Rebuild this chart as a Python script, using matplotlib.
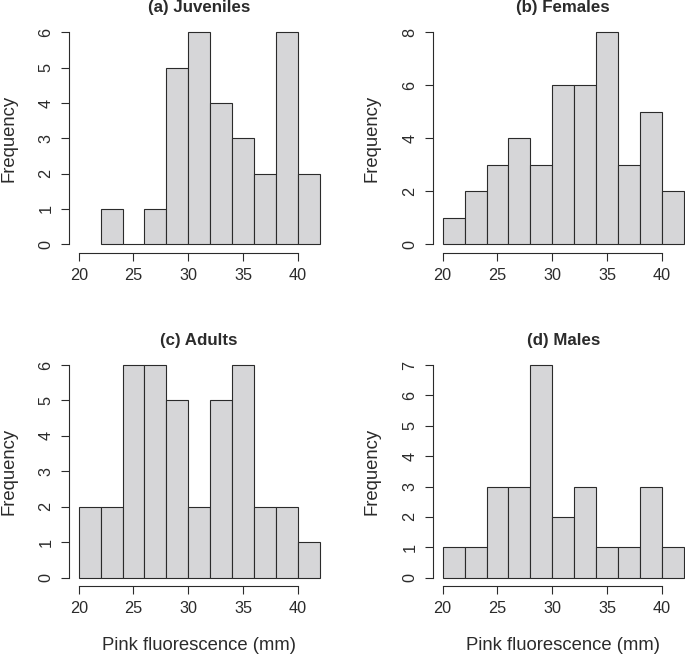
"""
Histograms of pink fluorescence by group (R base-graphics look).
"""
import matplotlib
matplotlib.use("Agg")
import matplotlib.pyplot as plt
import numpy as np

plt.rcParams["font.family"] = ["Liberation Sans", "DejaVu Sans"]

# bin edges (mm) and counts per panel
edges_juv = [22, 24, 26, 28, 30, 32, 34, 36, 38, 40, 42]
counts_juv = [1, 0, 1, 5, 6, 4, 3, 2, 6, 2]

edges_all = [20, 22, 24, 26, 28, 30, 32, 34, 36, 38, 40, 42]
counts_fem = [1, 2, 3, 4, 3, 6, 6, 8, 3, 5, 2]
counts_adu = [2, 2, 6, 6, 5, 2, 5, 6, 2, 2, 1]
counts_mal = [1, 1, 3, 3, 7, 2, 3, 1, 1, 3, 1]

titles = ["(a) Juveniles", "(b) Females", "(c) Adults", "(d) Males"]
x_ticks = [20, 25, 30, 35, 40]
y_ticks = [
    [0, 1, 2, 3, 4, 5, 6],
    [0, 2, 4, 6, 8],
    [0, 1, 2, 3, 4, 5, 6],
    [0, 1, 2, 3, 4, 5, 6, 7],
]
panels = [
    (edges_juv, counts_juv),
    (edges_all, counts_fem),
    (edges_all, counts_adu),
    (edges_all, counts_mal),
]

W, H = 685, 656
DPI = 100
fig = plt.figure(figsize=(W / DPI, H / DPI), dpi=DPI)

# plot regions in pixels: (left, top, right, bottom)
regions = [
    (69.1, 23.8, 329.2, 252.8),
    (433.0, 23.8, 693.6, 252.8),
    (69.1, 356.5, 329.2, 586.2),
    (433.0, 356.5, 693.6, 586.2),
]

ink = "#2b2b2b"
fill = "#D6D6D8"

for i, ((edges, counts), (l, t, r, b)) in enumerate(zip(panels, regions)):
    ax = fig.add_axes([l / W, (H - b) / H, (r - l) / W, (b - t) / H])
    ax.bar(edges[:-1], counts, width=np.diff(edges), align="edge",
           color=fill, edgecolor=ink, linewidth=0.8)
    ymax = y_ticks[i][-1]
    ax.set_xlim(19.12, 42.88)
    ax.set_ylim(-0.04 * ymax, 1.04 * ymax)
    ax.patch.set_visible(False)
    for s in ["top", "right"]:
        ax.spines[s].set_visible(False)
    for s in ["left", "bottom"]:
        ax.spines[s].set_color(ink)
        ax.spines[s].set_linewidth(0.8)
    ax.spines["left"].set_bounds(0, ymax)
    ax.spines["bottom"].set_bounds(20, 40)
    ax.set_xticks(x_ticks)
    ax.set_yticks(y_ticks[i])
    ax.tick_params(direction="out", length=5.5, width=0.8, color=ink,
                   labelsize=11.7, labelcolor=ink, pad=5.5)
    ax.tick_params(axis="y", labelrotation=90, pad=5.8)
    for lab in ax.get_yticklabels():
        lab.set_va("center")
    ax.annotate(titles[i], xy=(0.5, 1), xycoords="axes fraction",
                xytext=(0, 11.5), textcoords="offset points",
                ha="center", va="center", fontsize=12.2,
                fontweight="bold", color=ink)
    # y label
    fig.text((l - 60.5) / W, 1 - (t + b) / 2 / H, "Frequency",
             rotation=90, ha="center", va="center", fontsize=13.3, color=ink)
    if i >= 2:
        fig.text((l + r) / 2 / W, 1 - 645 / H, "Pink fluorescence (mm)",
                 ha="center", va="center", fontsize=13.3, color=ink)

fig.savefig("out.png", dpi=DPI)
plt.close(fig)
print("Saved: out.png")
